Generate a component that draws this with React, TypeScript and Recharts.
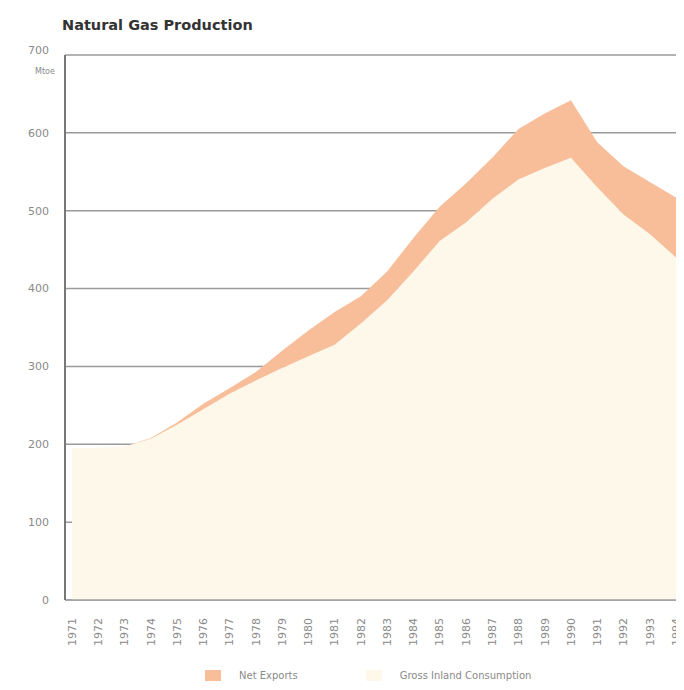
import React from "react";
import { AreaChart, Area, XAxis, YAxis, CartesianGrid, Legend } from "recharts";

const years = [
  "1971", "1972", "1973", "1974", "1975", "1976", "1977", "1978", "1979", "1980", "1981", "1982",
  "1983", "1984", "1985", "1986", "1987", "1988", "1989", "1990", "1991", "1992", "1993", "1994",
];
const grossInland = [
  195, 196, 197, 207, 225, 245, 265, 282, 298, 313, 328, 355,
  385, 422, 461, 485, 515, 540, 555, 568, 530, 495, 470, 440,
];
const netExports = [
  0, 0, 0, 1, 3, 7, 7, 11, 22, 33, 42, 35,
  37, 43, 44, 50, 53, 65, 70, 74, 58, 62, 67, 77,
];
const yTicks = [0, 100, 200, 300, 400, 500, 600, 700];
const title = "Natural Gas Production";
const unit = "Mtoe";

const COLOR_NET = "#F8BE9A";
const COLOR_GROSS = "#FDF8EA";

const legendItems = [
  { label: "Net Exports", color: COLOR_NET },
  { label: "Gross Inland Consumption", color: COLOR_GROSS },
];

const data = years.map((y, i) => ({
  year: y,
  gross: grossInland[i],
  net: netExports[i],
}));

const FONT = "'DejaVu Sans', sans-serif";

const XTick = (props: any) => {
  const { x, y, payload } = props;
  const ty = y + 10;
  return (
    <text
      x={x}
      y={ty}
      transform={`rotate(-90, ${x}, ${ty})`}
      textAnchor="end"
      dy="0.35em"
      fontSize={11}
      fill="#8a8a8a"
      fontFamily={FONT}
    >
      {payload.value}
    </text>
  );
};

const YTick = (props: any) => {
  const { x, y, payload } = props;
  const shift = payload.value === 700 ? -5 : 0;
  return (
    <text
      x={x}
      y={y + shift}
      textAnchor="end"
      dy="0.35em"
      fontSize={11}
      fill="#8a8a8a"
      fontFamily={FONT}
    >
      {payload.value}
    </text>
  );
};

const LegendContent = () => (
  <div style={{ display: "flex", justifyContent: "flex-start", paddingLeft: 197, fontFamily: FONT, fontSize: 10, color: "#8a8a8a" }}>
    {legendItems.map((it, i) => (
      <div key={i} style={{ display: "flex", alignItems: "center", marginRight: i === 0 ? 68 : 0 }}>
        <div style={{ width: 16, height: 11, background: it.color, marginRight: 18 }} />
        <span>{it.label}</span>
      </div>
    ))}
  </div>
);

export default function App() {
  return (
    <div style={{ position: "relative", width: 676, height: 682, overflow: "hidden" }}>
      <div
        style={{
          position: "absolute",
          left: 54,
          top: 9,
          fontFamily: FONT,
          fontWeight: "bold",
          fontSize: 14.5,
          color: "#333",
        }}
      >
        {title}
      </div>
      <div
        style={{
          position: "absolute",
          left: 27,
          top: 59,
          fontFamily: FONT,
          fontSize: 8,
          color: "#8a8a8a",
        }}
      >
        {unit}
      </div>
      <AreaChart
        width={676}
        height={682}
        data={data}
        margin={{ top: 47, right: 0, left: 0, bottom: 0 }}
      >
        <CartesianGrid vertical={false} stroke="#9a9a9a" strokeWidth={1.5} />
        <XAxis
          dataKey="year"
          interval={0}
          padding={{ left: 7, right: 8 }}
          tick={<XTick />}
          tickLine={false}
          axisLine={{ stroke: "#a0a0a0", strokeWidth: 1.5 }}
          height={70}
        />
        <YAxis
          domain={[0, 700]}
          ticks={yTicks}
          width={57}
          tickLine={false}
          tickMargin={10}
          axisLine={{ stroke: "#777", strokeWidth: 2 }}
          tick={<YTick />}
        />
        <Legend verticalAlign="bottom" height={20} content={<LegendContent />} />
        <Area
          type="linear"
          dataKey="gross"
          name="Gross Inland Consumption"
          stackId="1"
          stroke="none"
          fill={COLOR_GROSS}
          fillOpacity={1}
          isAnimationActive={false}
        />
        <Area
          type="linear"
          dataKey="net"
          name="Net Exports"
          stackId="1"
          stroke="none"
          fill={COLOR_NET}
          fillOpacity={1}
          isAnimationActive={false}
        />
      </AreaChart>
    </div>
  );
}
